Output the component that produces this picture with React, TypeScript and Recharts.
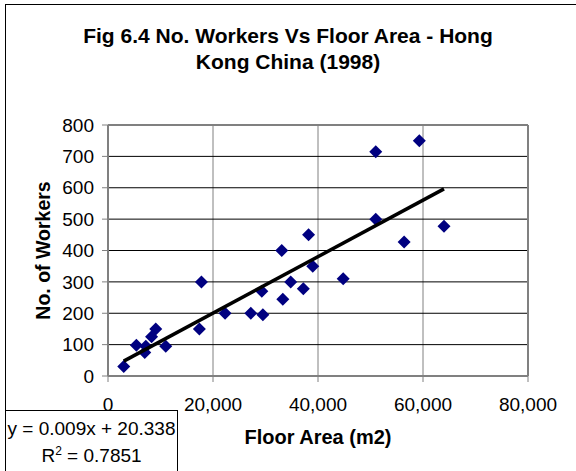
import React from 'react';
import { ScatterChart, Scatter, XAxis, YAxis, CartesianGrid, ReferenceLine } from 'recharts';

// Floor area (m2) and number of workers per establishment
const floorArea = [
  3000, 5400, 7000, 7200, 8300, 9100, 11000, 17400, 17800, 22300, 27200, 29300, 29500,
  33100, 33300, 34800, 37200, 38200, 39000, 44800, 51000, 51000, 56400, 59300, 64000,
];
const workers = [
  30, 98, 75, 95, 125, 150, 95, 150, 300, 200, 200, 270, 195,
  400, 245, 300, 278, 450, 350, 310, 715, 500, 427, 750, 477,
];

const xTicks = [0, 20000, 40000, 60000, 80000];
const yTicks = [0, 100, 200, 300, 400, 500, 600, 700, 800];

// linear trend reported in the equation box
const slope = 0.009;
const intercept = 20.338;
const rSquared = 0.7851;

const points = floorArea.map((x, i) => ({ x, y: workers[i] }));
const xMin = Math.min(...floorArea);
const xMax = Math.max(...floorArea);
const trend = [
  { x: xMin, y: slope * xMin + intercept },
  { x: xMax, y: slope * xMax + intercept },
];

const FONT = 'Arial, "Liberation Sans", sans-serif';

const Diamond = (props: any) => {
  const { cx, cy } = props;
  const r = 6.5;
  return (
    <polygon
      points={`${cx},${cy - r} ${cx + r},${cy} ${cx},${cy + r} ${cx - r},${cy}`}
      fill="#000080"
    />
  );
};

export default function App() {
  return (
    <div
      style={{
        position: 'absolute',
        left: 0,
        top: 0,
        width: 576,
        height: 471,
        overflow: 'hidden',
        background: '#fff',
        fontFamily: FONT,
      }}
    >
      <div
        style={{
          position: 'absolute',
          left: 5,
          top: 4,
          width: 640,
          height: 520,
          border: '1px solid #000',
        }}
      />
      <div
        style={{
          position: 'absolute',
          top: 23,
          left: 0,
          width: 576,
          textAlign: 'center',
          fontWeight: 'bold',
          fontSize: 21,
          lineHeight: '26px',
          color: '#000',
        }}
      >
        <div>Fig 6.4 No. Workers Vs Floor Area - Hong</div>
        <div>Kong China (1998)</div>
      </div>
      <div style={{ position: 'absolute', left: 0, top: 0 }}>
        <ScatterChart width={576} height={471} margin={{ top: 125, right: 48, bottom: 65, left: 48 }}>
          <CartesianGrid horizontal={false} vertical stroke="#808080" verticalValues={xTicks} />
          <CartesianGrid horizontal vertical={false} stroke="#000" horizontalValues={yTicks} />
          <XAxis
            type="number"
            dataKey="x"
            domain={[0, 80000]}
            ticks={xTicks}
            interval={0}
            height={30}
            stroke="#808080"
            axisLine={{ stroke: '#808080', strokeWidth: 2 }}
            tickSize={6}
            tickMargin={16}
            tick={{ fill: '#000', fontSize: 19, fontFamily: FONT }}
            tickFormatter={(v: number) => v.toLocaleString('en-US')}
            label={{
              value: 'Floor Area (m2)',
              position: 'bottom',
              offset: 24,
              style: { fontWeight: 'bold', fontSize: 20, fill: '#000', fontFamily: FONT },
            }}
          />
          <YAxis
            type="number"
            dataKey="y"
            domain={[0, 800]}
            ticks={yTicks}
            interval={0}
            width={60}
            stroke="#808080"
            axisLine={{ stroke: '#808080', strokeWidth: 2 }}
            tickSize={6}
            tickMargin={8}
            tick={{ fill: '#000', fontSize: 19, fontFamily: FONT }}
            label={{
              value: 'No. of Workers',
              position: 'center',
              angle: -90,
              dx: -35,
              style: { fontWeight: 'bold', fontSize: 19.5, fill: '#000', fontFamily: FONT },
            }}
          />
          <ReferenceLine y={800} stroke="#808080" strokeWidth={2} />
          <ReferenceLine x={80000} stroke="#808080" strokeWidth={2} />
          <Scatter
            data={points}
            shape={Diamond}
            isAnimationActive={false}
          />
          <Scatter
            data={trend}
            line={{ stroke: '#000', strokeWidth: 3.5 }}
            shape={() => <g />}
            isAnimationActive={false}
          />
        </ScatterChart>
      </div>
      <div
        style={{
          position: 'absolute',
          left: 5,
          top: 410,
          width: 173,
          height: 80,
          border: '1px solid #000',
          background: '#fff',
          fontSize: 19,
          lineHeight: '27px',
          paddingTop: 4,
          boxSizing: 'border-box',
          textAlign: 'center',
          color: '#000',
          whiteSpace: 'nowrap',
        }}
      >
        <div>y = {slope}x + {intercept}</div>
        <div>
          R<sup style={{ fontSize: 12, lineHeight: 0 }}>2</sup> = {rSquared}
        </div>
      </div>
    </div>
  );
}
